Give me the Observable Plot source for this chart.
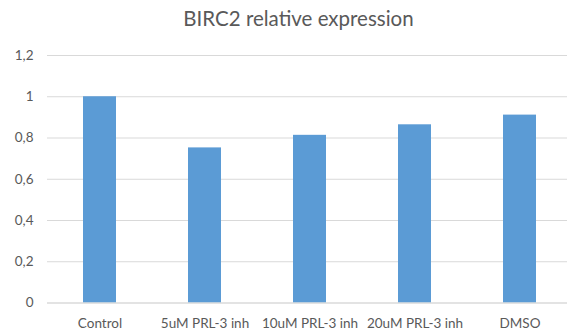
<!DOCTYPE html>
<html>
<head>
<meta charset="utf-8">
<script src="https://cdn.jsdelivr.net/npm/d3@7"></script>
<script src="https://cdn.jsdelivr.net/npm/@observablehq/plot@0.6"></script>
<style>
  html, body { margin: 0; padding: 0; background: #fff; overflow: hidden; width: 567px; height: 336px; }
  #title { height: 36px; line-height: 36px; text-align: center; font-family: Lato, "Open Sans", sans-serif; font-size: 20.5px; color: #595959; padding-left: 30px; box-sizing: border-box; }
  svg { display: block; }
</style>
</head>
<body>
<div id="title">BIRC2 relative expression</div>
<div id="chart"></div>
<script>
const categories = ["Control", "5uM PRL-3 inh", "10uM PRL-3 inh", "20uM PRL-3 inh", "DMSO"];
const values = [1.0, 0.752, 0.813, 0.864, 0.911];
const yTicks = [0, 0.2, 0.4, 0.6, 0.8, 1.0, 1.2];

const data = categories.map((c, i) => ({category: c, value: values[i]}));
const fmt = d => d3.format(".1~f")(d).replace(".", ",");

const chart = Plot.plot({
  width: 567,
  height: 300,
  marginLeft: 47,
  marginRight: -5,
  marginTop: 19,
  marginBottom: 33.5,
  style: {fontFamily: "Lato, 'Open Sans', sans-serif", fontSize: "13.5px", color: "#595959", background: "#fff", overflow: "hidden"},
  x: {domain: categories, paddingInner: 0.686, paddingOuter: 0.343, label: null},
  y: {domain: [0, 1.2], label: null},
  marks: [
    Plot.gridY(yTicks, {stroke: "#d9d9d9", strokeOpacity: 1, strokeWidth: 1.2}),
    Plot.barY(data, {x: "category", y: "value", fill: "#5b9bd5"}),
    Plot.ruleY([0], {stroke: "#d9d9d9", strokeWidth: 1.2}),
    Plot.axisY(yTicks, {tickFormat: fmt, tickSize: 0, tickPadding: 14, fill: "#595959", fontSize: 13.5}),
    Plot.axisX({tickSize: 0, tickPadding: 15, fill: "#595959", fontSize: 13.5})
  ]
});
document.getElementById("chart").appendChild(chart);
</script>
</body>
</html>
